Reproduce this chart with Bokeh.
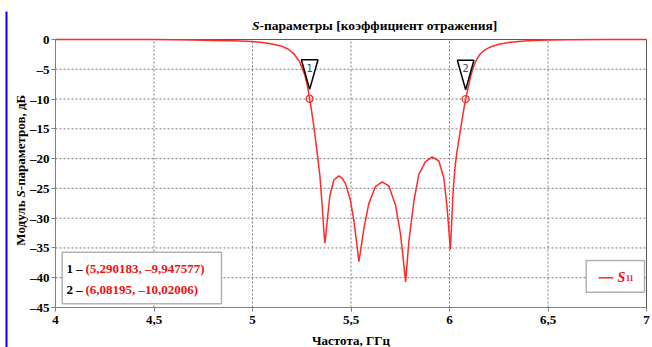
import math
from bokeh.plotting import figure
from bokeh.models import Range1d, FixedTicker, Label, BoxAnnotation, Arrow, LinearAxis
from bokeh.core.properties import value
from bokeh.embed import file_html
from bokeh.resources import INLINE

# ---------------- data ----------------
freq_ghz = [4.0, 4.2, 4.4, 4.5, 4.6, 4.7, 4.8, 4.9, 5.0, 5.05, 5.1, 5.15, 5.18, 5.21,
            5.24, 5.265, 5.28, 5.290183, 5.30, 5.31, 5.32, 5.33, 5.342, 5.354, 5.362,
            5.367, 5.372, 5.379, 5.393, 5.413, 5.438, 5.455, 5.472, 5.497, 5.514, 5.53,
            5.54, 5.55, 5.565, 5.59, 5.624, 5.658, 5.692, 5.726, 5.751, 5.765, 5.777,
            5.785, 5.794, 5.819, 5.844, 5.878, 5.912, 5.946, 5.971, 5.988, 5.998, 6.004,
            6.01, 6.018, 6.028, 6.036, 6.047, 6.06, 6.07, 6.08195, 6.098, 6.11, 6.123,
            6.14, 6.157, 6.18, 6.208, 6.25, 6.3, 6.35, 6.4, 6.5, 6.6, 6.8, 7.0]
s11_db = [0.0, 0.0, 0.0, -0.02, -0.06, -0.1, -0.15, -0.2, -0.35, -0.5, -0.75, -1.15, -1.6, -2.4,
          -3.8, -5.9, -8.0, -9.947577, -12.0, -14.3, -16.8, -19.5, -22.8, -28.0, -32.0,
          -34.2, -33.0, -30.5, -26.2, -23.6, -22.9, -23.3, -24.2, -27.0, -30.3, -34.5,
          -37.3, -35.2, -31.8, -27.6, -24.7, -23.9, -24.6, -27.8, -32.6, -36.8, -40.7,
          -37.5, -33.8, -27.2, -22.7, -20.5, -19.7, -20.4, -23.2, -28.3, -32.5, -35.3,
          -31.5, -25.6, -21.5, -19.3, -16.9, -14.3, -12.2, -10.02006, -7.6, -5.9, -4.5,
          -3.2, -2.4, -1.75, -1.25, -0.8, -0.5, -0.32, -0.2, -0.1, -0.05, -0.01, 0.0]

marker_ids = ["1", "2"]
marker_freq = [5.290183, 6.08195]
marker_db = [-9.947577, -10.02006]

x_ticks = [4, 4.5, 5, 5.5, 6, 6.5, 7]
x_tick_labels = ["4", "4,5", "5", "5,5", "6", "6,5", "7"]
y_ticks = [0, -5, -10, -15, -20, -25, -30, -35, -40, -45]
y_tick_labels = ["0", "–5", "–10", "–15", "–20", "–25", "–30", "–35", "–40", "–45"]

title_italic = "S"
title_rest = "-параметры [коэффициент отражения]"
ylabel_parts = ["Модуль", "S", "-параметров, дБ"]
xlabel = "Частота, ГГц"
legend_sub = "11"

# ---------------- style / geometry ----------------
SERIF = "Liberation Serif"
RED = "#ff2a2a"
TXT_RED = "#ee1111"
GRAY = "#808080"
X0, X1 = 4, 7
Y0, Y1 = -45, 0
W, H = 652, 347
PX_L, PX_R, PX_T, PX_B = 55, 646, 39, 307   # plot box in canvas pixels
ppx = (PX_R - PX_L) / (X1 - X0)
ppy = (PX_B - PX_T) / (Y1 - Y0)
x_range = Range1d(X0 - PX_L / ppx, X1 + (W - PX_R) / ppx)
y_range = Range1d(Y0 - (H - PX_B) / ppy, Y1 + PX_T / ppy)
BL = 5  # label baseline correction (px)

def sy(page_y):
    return H - page_y

p = figure(width=W, height=H, output_backend="svg", toolbar_location=None,
           x_range=x_range, y_range=y_range, x_axis_location=None, y_axis_location=None,
           min_border=0, min_border_left=0, min_border_right=0,
           min_border_top=0, min_border_bottom=0)
p.background_fill_color = "white"
p.border_fill_color = "white"
p.outline_line_color = None
p.grid.visible = False

# axes pinned to the plot box
xax = LinearAxis(fixed_location=Y0, bounds=(X0, X1))
yax = LinearAxis(fixed_location=X0, bounds=(Y0, Y1))
p.add_layout(xax, "below")
p.add_layout(yax, "left")
for ax, ticks, labels in ((xax, x_ticks, x_tick_labels), (yax, y_ticks, y_tick_labels)):
    ax.ticker = FixedTicker(ticks=ticks)
    ax.major_label_overrides = {t: l for t, l in zip(ticks, labels)}
    ax.major_label_text_font = SERIF
    ax.major_label_text_font_style = "bold"
    ax.major_label_text_font_size = "13px"
    ax.major_label_text_color = "black"
    ax.axis_line_color = GRAY
    ax.major_tick_line_color = GRAY
    ax.major_tick_in = 0
    ax.major_tick_out = 4
    ax.minor_tick_line_color = None
xax.major_label_standoff = 4
yax.major_label_standoff = 2

# dotted grid
gx = x_ticks[1:-1]
gy = y_ticks[1:-1]
p.segment(x0=gx, y0=[Y0] * len(gx), x1=gx, y1=[Y1] * len(gx),
          line_color="#7a7a7a", line_dash="2 2", line_width=1)
p.segment(x0=[X0] * len(gy), y0=gy, x1=[X1] * len(gy), y1=gy,
          line_color="#7a7a7a", line_dash="2 2", line_width=1)
# plot box
p.quad(left=[X0], right=[X1], bottom=[Y0], top=[Y1], fill_color=None,
       line_color="#5a5a5a", line_width=1)

# blue page-margin bar
p.add_layout(BoxAnnotation(left=5, right=7, top=sy(11), bottom=0,
                           left_units="screen", right_units="screen",
                           top_units="screen", bottom_units="screen",
                           fill_color="#0000ff", fill_alpha=1, line_color=None))

# curve
p.line(freq_ghz, s11_db, line_color=RED, line_width=1.5)

# marker triangles, circles, numbers
HALF_W, TOP_PX, APEX_PX = 8.3, 39.0, 9.4
tri_xs = [[x - HALF_W / ppx, x + HALF_W / ppx, x] for x in marker_freq]
tri_ys = [[y + TOP_PX / ppy, y + TOP_PX / ppy, y + APEX_PX / ppy] for y in marker_db]
p.patches(tri_xs, tri_ys, fill_color="white", line_color="black", line_width=1.5)
p.scatter(marker_freq, marker_db, marker="circle", size=7, fill_color=None,
          line_color=RED, line_width=1.3)
p.text(x=marker_freq, y=marker_db, text=marker_ids, y_offset=-31,
       text_align="center", text_baseline="middle", text_font=value("DejaVu Sans"),
       text_font_size="10px", text_color="#3d4a5c")

def lab(x, page_y, text, style="bold", size="13px", align="left", color="black"):
    p.add_layout(Label(x=x, y=sy(page_y - BL), x_units="screen", y_units="screen", text=text,
                       text_font=SERIF, text_font_style=style, text_font_size=size,
                       text_align=align, text_baseline="alphabetic", text_color=color))

def vlab(page_x, page_y, text, style="bold", align="left"):
    p.add_layout(Label(x=page_x - BL, y=sy(page_y), x_units="screen", y_units="screen", text=text,
                       angle=math.pi / 2, text_font=SERIF, text_font_style=style,
                       text_font_size="13px", text_align=align, text_baseline="alphabetic",
                       text_color="black"))

# title
lab(259, 29.5, title_italic, style="bold italic", size="13.5px", align="right")
lab(259, 29.5, title_rest, size="13.5px")

# y label (rotated)
YL_X, YL_SHIFT = 25, 5
vlab(YL_X, 195 + YL_SHIFT, ylabel_parts[0], align="right")
vlab(YL_X, 192 + YL_SHIFT, ylabel_parts[1], style="bold italic")
vlab(YL_X, 184.7 + YL_SHIFT, ylabel_parts[2])

# x label
lab((PX_L + PX_R) / 2, 345, xlabel, align="center")

# marker readout box
def fmt(v):
    return str(v).replace(".", ",").replace("-", "–")

p.add_layout(BoxAnnotation(left=61.7, right=221, top=sy(251.7), bottom=sy(303.3),
                           left_units="screen", right_units="screen",
                           top_units="screen", bottom_units="screen",
                           fill_color="white", fill_alpha=1, line_color="black", line_width=1.5))
for i, (mid, mx, my) in enumerate(zip(marker_ids, marker_freq, marker_db)):
    yb = 273 + 21 * i
    lab(66, yb, f"{mid} –")
    lab(85, yb, f"({fmt(mx)}, {fmt(my)})", color=TXT_RED)

# legend box
p.add_layout(BoxAnnotation(left=585.7, right=644, top=sy(260), bottom=sy(291.7),
                           left_units="screen", right_units="screen",
                           top_units="screen", bottom_units="screen",
                           fill_color="white", fill_alpha=1, line_color="black", line_width=1.5))
p.add_layout(Arrow(x_start=598, y_start=sy(277.3), x_end=613, y_end=sy(277.3), end=None,
                   start_units="screen", end_units="screen", line_color=RED, line_width=1.5))
lab(617, 282, "S", style="bold italic", size="14px", color=TXT_RED)
lab(625.5, 282.5, legend_sub, size="8px", color=TXT_RED)

open("out.html", "w").write(file_html(p, INLINE))
